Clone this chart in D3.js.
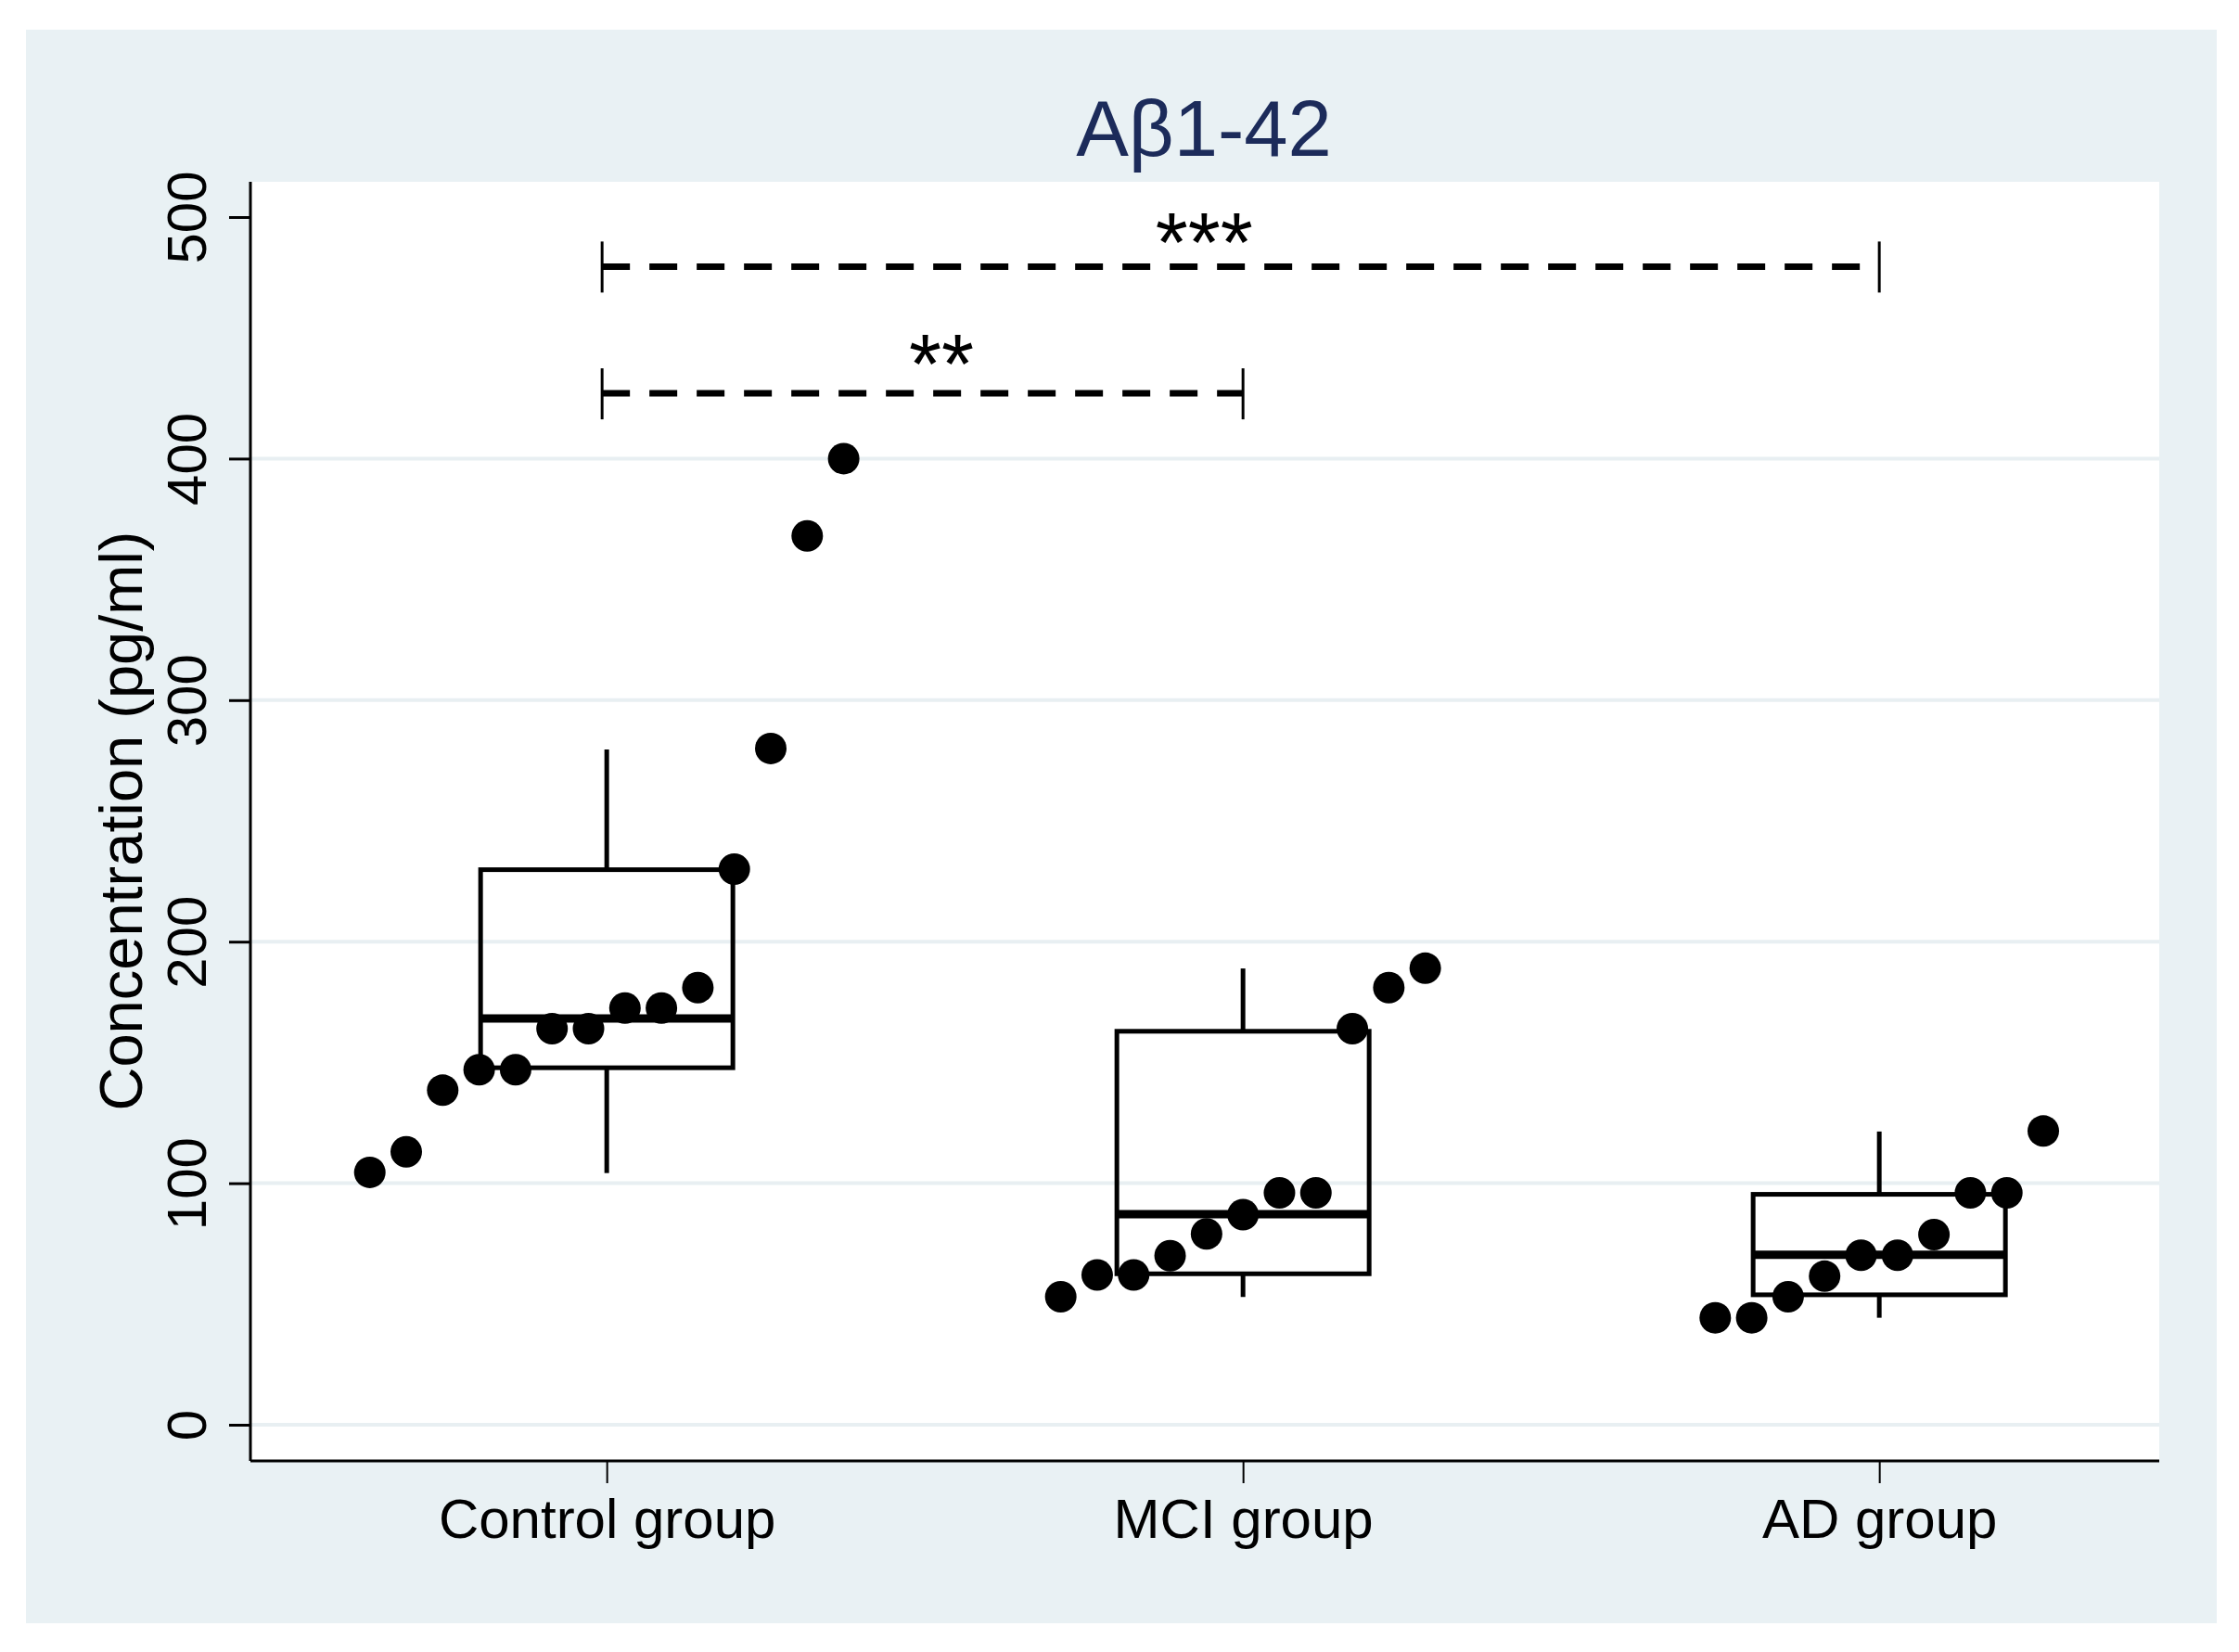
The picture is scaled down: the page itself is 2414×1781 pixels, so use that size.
<!DOCTYPE html>
<html>
<head>
<meta charset="utf-8">
<script src="https://cdn.jsdelivr.net/npm/d3@7"></script>
<style>
  body { margin: 0; background: #ffffff; }
  text { font-family: "Liberation Sans", Arial, sans-serif; }
</style>
</head>
<body>
<div id="chart"></div>
<script>
// groups and observations (pg/ml), sorted within each group
const groups = ["Control group", "MCI group", "AD group"];
const controlValues = [104.5, 113, 138.5, 147, 147, 164, 164, 172.5, 172.5, 181, 230, 280, 368, 400];
const mciValues = [53, 62, 62, 70, 79, 87, 96, 96, 164, 181, 189];
const adValues = [44.3, 44.3, 53, 61.5, 70.2, 70.2, 78.7, 96, 96, 121.6];

// box statistics as drawn
const boxQ1 = [147.8, 62.5, 53.8];
const boxMedian = [168.2, 87.2, 70.4];
const boxQ3 = [229.8, 162.9, 95.4];
const whiskerLow = [104.2, 52.9, 44.3];
const whiskerHigh = [279.6, 188.9, 121.4];

const yTicks = [0, 100, 200, 300, 400, 500];
const gridTicks = [0, 100, 200, 300, 400];

// significance brackets
const bracketFrom = [0, 0];
const bracketTo = [2, 1];
const bracketY = [479.5, 427];
const starLabels = ["***", "**"];
const starX = [0.939, 0.526];
const starY = [497.5, 447];

const W = 2414, H = 1781;
const svg = d3.select("#chart").append("svg")
    .attr("width", W)
    .attr("height", H);

// graph region
svg.append("rect")
    .attr("x", 28).attr("y", 32)
    .attr("width", 2362).attr("height", 1718)
    .attr("fill", "#e9f1f4");

const plot = {left: 270, right: 2328, top: 196, bottom: 1575};

svg.append("rect")
    .attr("x", plot.left).attr("y", plot.top)
    .attr("width", plot.right - plot.left)
    .attr("height", plot.bottom - plot.top)
    .attr("fill", "#ffffff");

const x = d3.scaleLinear()
    .domain([-0.56, 2.44])
    .range([plot.left, plot.right]);

const y = d3.scaleLinear()
    .domain([0, 500])
    .range([1536, 234]);

// gridlines
svg.append("g")
    .selectAll("line")
    .data(gridTicks)
    .enter()
    .append("line")
    .attr("x1", plot.left).attr("x2", plot.right)
    .attr("y1", d => y(d)).attr("y2", d => y(d))
    .attr("stroke", "#e8eff2")
    .attr("stroke-width", 4);

// title
svg.append("text")
    .attr("x", 1298).attr("y", 168)
    .attr("text-anchor", "middle")
    .attr("font-size", 85)
    .attr("fill", "#1c2b5a")
    .text("Aβ1-42");

// Y axis
const yAxis = svg.append("g")
    .attr("transform", "translate(" + plot.left + ",0)")
    .call(d3.axisLeft(y).tickValues(yTicks).tickSize(23).tickPadding(0).tickFormat(d3.format("d")));
yAxis.select(".domain").remove();
yAxis.selectAll(".tick line").attr("stroke", "#000").attr("stroke-width", 3);
yAxis.selectAll(".tick text")
    .attr("font-size", 60)
    .attr("fill", "#000")
    .attr("text-anchor", "middle")
    .attr("transform", "translate(-48,0) rotate(-90)")
    .attr("x", 0).attr("dy", 0).attr("y", 0);

svg.append("line")
    .attr("x1", plot.left).attr("x2", plot.left)
    .attr("y1", plot.top).attr("y2", plot.bottom)
    .attr("stroke", "#000").attr("stroke-width", 3);

svg.append("text")
    .attr("transform", "translate(153," + y(250) + ") rotate(-90)")
    .attr("text-anchor", "middle")
    .attr("font-size", 65)
    .attr("fill", "#000")
    .text("Concentration (pg/ml)");

// X axis
const xAxis = svg.append("g")
    .attr("transform", "translate(0," + plot.bottom + ")")
    .call(d3.axisBottom(x).tickValues([0, 1, 2]).tickSize(24).tickPadding(0)
        .tickFormat(i => groups[i]));
xAxis.select(".domain").remove();
xAxis.selectAll(".tick line").attr("stroke", "#000").attr("stroke-width", 2);
xAxis.selectAll(".tick text")
    .attr("font-size", 60)
    .attr("fill", "#000")
    .attr("dy", 0)
    .attr("y", 83);

svg.append("line")
    .attr("x1", plot.left).attr("x2", plot.right)
    .attr("y1", plot.bottom).attr("y2", plot.bottom)
    .attr("stroke", "#000").attr("stroke-width", 3);

// box plots
const boxHalf = 136;
const boxes = svg.append("g");
groups.forEach((g, i) => {
    const cx = x(i);
    boxes.append("line")
        .attr("x1", cx).attr("x2", cx)
        .attr("y1", y(whiskerHigh[i])).attr("y2", y(boxQ3[i]))
        .attr("stroke", "#000").attr("stroke-width", 5);
    boxes.append("line")
        .attr("x1", cx).attr("x2", cx)
        .attr("y1", y(boxQ1[i])).attr("y2", y(whiskerLow[i]))
        .attr("stroke", "#000").attr("stroke-width", 5);
    boxes.append("rect")
        .attr("x", cx - boxHalf).attr("y", y(boxQ3[i]))
        .attr("width", boxHalf * 2)
        .attr("height", y(boxQ1[i]) - y(boxQ3[i]))
        .attr("fill", "none")
        .attr("stroke", "#000").attr("stroke-width", 5);
    boxes.append("line")
        .attr("x1", cx - boxHalf).attr("x2", cx + boxHalf)
        .attr("y1", y(boxMedian[i])).attr("y2", y(boxMedian[i]))
        .attr("stroke", "#000").attr("stroke-width", 9);
});

// points, spread side by side in sorted order
const spacing = 39.3;
[controlValues, mciValues, adValues].forEach((vals, i) => {
    svg.append("g")
        .selectAll("circle")
        .data(vals)
        .enter()
        .append("circle")
        .attr("cx", (d, j) => x(i) + (j - (vals.length - 1) / 2) * spacing)
        .attr("cy", d => y(d))
        .attr("r", 17)
        .attr("fill", "#000");
});

// significance brackets
const br = svg.append("g");
bracketY.forEach((v, k) => {
    const x1 = x(bracketFrom[k]) - 5, x2 = x(bracketTo[k]);
    br.append("line")
        .attr("x1", x1).attr("x2", x2)
        .attr("y1", y(v)).attr("y2", y(v))
        .attr("stroke", "#000").attr("stroke-width", 7)
        .attr("stroke-dasharray", "30,21");
    [x1, x2].forEach(xx => {
        br.append("line")
            .attr("x1", xx).attr("x2", xx)
            .attr("y1", y(v) - 27).attr("y2", y(v) + 28)
            .attr("stroke", "#000").attr("stroke-width", 3);
    });
    br.append("text")
        .attr("x", x(starX[k]))
        .attr("y", y(starY[k]) + 52)
        .attr("text-anchor", "middle")
        .attr("font-size", 90)
        .attr("fill", "#000")
        .text(starLabels[k]);
});
</script>
</body>
</html>
